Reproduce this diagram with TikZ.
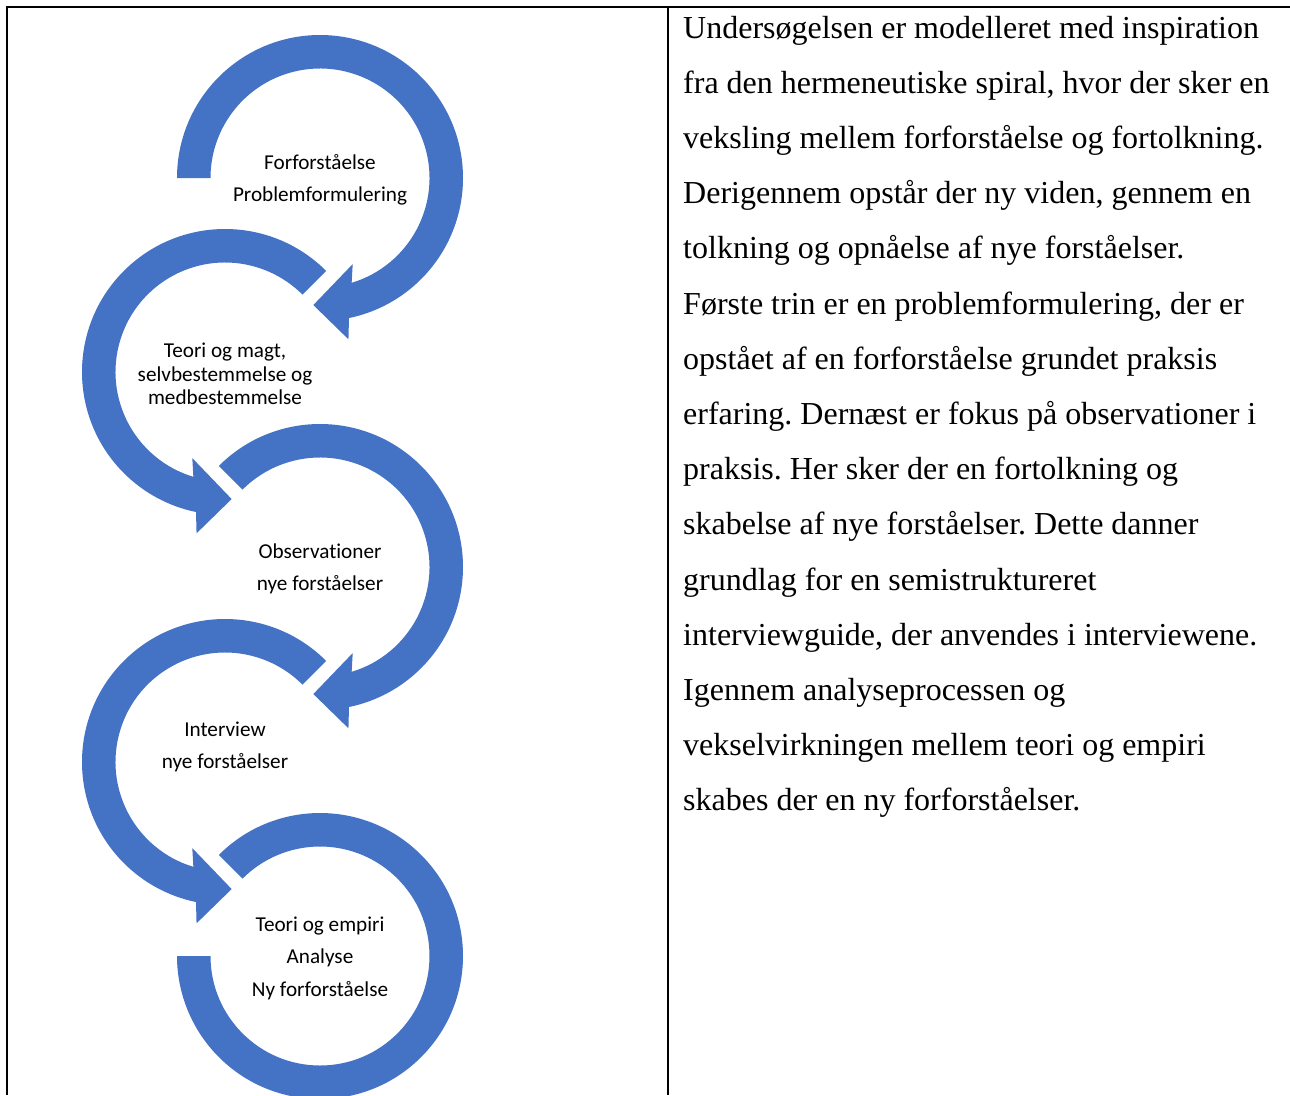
\documentclass[tikz,border=0pt]{standalone}
\usepackage{fontspec}
\setmainfont{Liberation Serif}
\newfontfamily\labelfont[Ligatures=NoCommon]{Carlito}
\frenchspacing
\definecolor{ArcBlue}{HTML}{4472C4}
\tikzset{
  ring/.style={fill=ArcBlue},
  steplabel/.style={font=\labelfont\fontsize{21.2}{32.5}\selectfont, align=center, inner sep=0pt, yshift=-2pt},
  bodyline/.style={font=\fontsize{32}{38}\selectfont, anchor=base west, inner sep=0pt},
  frame/.style={line width=2pt}
}
\begin{document}
\begin{tikzpicture}[x=1pt,y=1pt]
        \useasboundingbox (0,0) rectangle (1290,-1095);

        \draw[frame] (7,-1095) -- (7,-7) -- (1290,-7);
        \draw[frame] (668,-7) -- (668,-1095);

        \coordinate (c1) at (320,-178);
        \coordinate (c2) at (225,-372);
        \coordinate (c3) at (320,-567);
        \coordinate (c4) at (225,-762);
        \coordinate (c5) at (320,-956);

        \begin{scope}[shift={(c1)}]
        \fill[ring] (180:143) arc (180:-78.3:143) -- (-80:163.8) -- (-93:127.2) -- (-69.2:92.1) -- (-73.2:109.5) arc (-73.2:180:109.5) -- cycle;
        \end{scope}
        \begin{scope}[shift={(c2)}]
        \fill[ring] (45:143) arc (45:258.3:143) -- (260:163.8) -- (273:127.2) -- (249.2:92.1) -- (253.2:109.5) arc (253.2:45:109.5) -- cycle;
        \end{scope}
        \begin{scope}[shift={(c3)}]
        \fill[ring] (135:143) arc (135:-78.3:143) -- (-80:163.8) -- (-93:127.2) -- (-69.2:92.1) -- (-73.2:109.5) arc (-73.2:135:109.5) -- cycle;
        \end{scope}
        \begin{scope}[shift={(c4)}]
        \fill[ring] (45:143) arc (45:258.3:143) -- (260:163.8) -- (273:127.2) -- (249.2:92.1) -- (253.2:109.5) arc (253.2:45:109.5) -- cycle;
        \end{scope}
        \begin{scope}[shift={(c5)}]
        \fill[ring] (135:143) arc (135:-180:143) -- (-180:109.5) arc (-180:135:109.5) -- cycle;
        \end{scope}

        \node[steplabel] (forst) at (c1) {Forforståelse\\Problemformulering};
        \node[steplabel, font=\labelfont\fontsize{21.2}{23.5}\selectfont] (teori) at (c2) {Teori og magt,\\selvbestemmelse og\\medbestemmelse};
        \node[steplabel] (obs) at (c3) {Observationer\\nye forståelser};
        \node[steplabel, yshift=17pt] (interview) at (c4) {Interview\\nye forståelser};
        \node[steplabel] (analyse) at (c5) {Teori og empiri\\Analyse\\Ny forforståelse};

        \foreach \txt [count=\i] in {Undersøgelsen er modelleret med inspiration,
            {fra den hermeneutiske spiral, hvor der sker en},
            veksling mellem forforståelse og fortolkning.,
            {Derigennem opstår der ny viden, gennem en},
            tolkning og opnåelse af nye forståelser.,
            {Første trin er en problemformulering, der er},
            opstået af en forforståelse grundet praksis,
            erfaring. Dernæst er fokus på observationer i,
            praksis. Her sker der en fortolkning og,
            skabelse af nye forståelser. Dette danner,
            grundlag for en semistruktureret,
            {interviewguide, der anvendes i interviewene.},
            Igennem analyseprocessen og,
            vekselvirkningen mellem teori og empiri,
            skabes der en ny forforståelser.}
          \node[bodyline] (line\i) at (683,{-38-55.2*(\i-1)}) {\txt};
\end{tikzpicture}
\end{document}
